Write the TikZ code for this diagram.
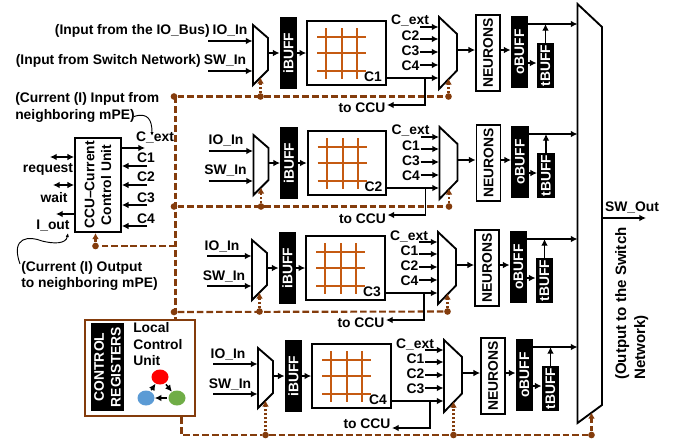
\documentclass[tikz,border=0pt]{standalone}
\usepackage{fontspec}
\setmainfont{Liberation Sans}
\usetikzlibrary{arrows.meta,shapes.geometric}
\definecolor{busbrown}{RGB}{132,60,12}
\definecolor{gridorange}{RGB}{197,90,17}
\tikzset{
  sig/.style={-{Latex[length=5pt,width=5pt]},line width=1.1pt,black},
  duo/.style={{Latex[length=5pt,width=5pt]}-{Latex[length=5pt,width=5pt]},line width=1.1pt},
  thin wave/.style={-{Latex[length=3pt,width=2.5pt]},line width=0.7pt},
  lab/.style={font=\fontsize{10.4}{12.6}\selectfont\bfseries,inner sep=0pt},
  muxline/.style={line width=1.4pt,fill=white},
  blackbuf/.style={lab,fill=black,text=white,rotate=90,minimum height=13pt},
  plainbox/.style={lab,draw,line width=1.3pt,rotate=90,fill=white},
  bus/.style={busbrown,line width=1.6pt,dash pattern=on 5pt off 2.2pt},
  sel/.style={-{Latex[length=4.5pt,width=5pt]},busbrown,line width=1.6pt,dash pattern=on 1.5pt off 1.5pt},
  busdot/.style={circle,fill=busbrown,inner sep=0pt,minimum size=5pt},
}
% name, shift, x of IO_In, y of to CCU, Cn, other inputs, y of bus
\newcommand{\pecol}[7]{%
  \begin{scope}[shift={(#2)}]
    \node[lab] (#1io) at (#3,31) {IO\_In};
    \node[lab] (#1sw) at (225,61) {SW\_In};
    \coordinate (#1ia) at (208,41);
    \coordinate (#1ib) at (208,71);
    \coordinate (#1ma) at (252.5,41);
    \coordinate (#1mb) at (252.5,71);
    \coordinate (#1mo) at (268,53);
    \draw[sig] (#1ia) -- (#1ma);
    \draw[sig] (#1ib) -- (#1mb);
    \draw[muxline] (253,25) -- (268,38) -- (268,70) -- (253,85) -- cycle;
    \node[blackbuf,minimum width=53.5pt] (#1ibuf) at (288.5,53) {iBUFF};
    \node[draw,line width=1.4pt,minimum width=59pt,minimum height=48pt,inner sep=0pt] (#1grid) at (346.5,53) {};
    \draw[sig] (#1mo) -- (#1ibuf.north);
    \draw[sig] (#1ibuf.south) -- (#1grid.west);
    \foreach \g in {37,53,71} {\draw[gridorange,line width=1.5pt] (317,\g) -- (366,\g);}
    \foreach \g in {326,342,357} {\draw[gridorange,line width=1.5pt] (\g,28) -- (\g,79);}
    \node[lab] (#1cn) at (373,77) {#5};
    % current mux
    \coordinate (#1ce) at (420,27);
    \coordinate (#1cme) at (438.5,27);
    \coordinate (#1cg) at (386,78);
    \coordinate (#1cmg) at (438.5,78);
    \coordinate (#1cb) at (425,78);
    \coordinate (#1cc) at (425,105);
    \coordinate (#1ct) at (387,105);
    \coordinate (#1co) at (457,50);
    \node[lab] (#1cel) at (410,21) {C\_ext};
    \draw[sig] (#1ce) -- (#1cme);
    \foreach \lab [count=\n from 0] in {#6} {
      \node[lab] (#1cl\n) at (410.5,{36+15*\n}) {\lab};
      \draw[sig] (420,{39+13*\n}) -- (438.5,{39+13*\n});
    }
    \draw[sig] (#1cg) -- (#1cmg);
    \draw[sig] (#1cb) -- (#1cc) -- (#1ct);
    \node[lab] (#1toccu) at (362,#4) {to CCU};
    \draw[muxline] (439,17) -- (457,34) -- (457,70.5) -- (439,89) -- cycle;
    % neurons and output buffers
    \node[plainbox,minimum width=57pt,minimum height=18pt] (#1nr) at (488,53) {NEURONS};
    \node[blackbuf,minimum width=54pt] (#1ob) at (519.5,52) {oBUFF};
    \node[blackbuf,minimum width=34pt] (#1tb) at (545.5,65.5) {tBUFF};
    \draw[sig] (#1co) -- (#1co -| #1nr.north);
    \draw[sig] (#1co -| #1nr.south) -- (#1co -| #1ob.north);
    \coordinate (#1oa) at (528,24);
    \coordinate (#1ot) at (528,63);
    \draw[sig] (#1oa) -- (#1oa -| swa);
    \draw[sig] (#1ot) -- (#1ot -| #1tb.north);
    \draw[sig] (#1tb.east) -- (#1tb.east |- #1oa);
    % select lines
    \node[busdot] (#1sa) at (260.5,#7) {};
    \node[busdot] (#1sb) at (448.5,#7) {};
    \coordinate (#1ta) at (260.5,77.5);
    \coordinate (#1tc) at (448.5,78.5);
    \draw[sel] (#1sa) -- (#1ta);
    \draw[sel] (#1sb) -- (#1tc);
  \end{scope}}

\begin{document}
\begin{tikzpicture}[x=0.75pt,y=-0.75pt]
  \useasboundingbox (0,0) rectangle (681,443);
  % switch mux
  \coordinate (swa) at (577.5,4);
  \coordinate (swb) at (602,27);
  \coordinate (swc) at (602,405);
  \coordinate (swd) at (577.5,423);
  \draw[muxline] (swa) -- (swb) -- (swc) -- (swd) -- cycle;
  % current bus, below the columns
  \node[busdot] (ja) at (174,96.5) {};
  \node[busdot] (jb) at (174,206.5) {};
  \node[busdot] (jc) at (174,312) {};
  \node[busdot] (jd) at (95.5,246) {};
  \coordinate (ju) at (175.5,96.5);
  \coordinate (jl) at (175.5,246);
  \coordinate (jt) at (95.5,233);
  \coordinate (asb) at (448.5,96.5);
  \coordinate (bsb) at (449,206.5);
  \coordinate (csb) at (447.5,311.5);
  \draw[bus] (ja) -- (asb);
  \draw[bus] (jb) -- (bsb);
  \draw[bus] (jc) -- (csb);
  \draw[bus] (jl) -- (jd);
  \draw[sel,solid] (jd) -- (jt);
  \pecol{a}{0,0}{230}{108}{C1}{C2,C3,C4}{96.5}
  \pecol{b}{0.5,110}{225.5}{109}{C2}{C1,C3,C4}{96.5}
  \pecol{c}{-1,215}{223}{108}{C3}{C1,C2,C4}{96.5}
  \pecol{d}{5,323}{223}{101}{C4}{C1,C2,C3}{112}
  \node[lab,anchor=east] (ioin) at (210,31) {(Input from the IO\_Bus)};
  \node[lab,anchor=east] (swin) at (201,61) {(Input from Switch Network)};
  \coordinate (swo) at (602,218);
  \coordinate (swp) at (646,218);
  \draw[sig] (swo) -- (swp);
  \node[lab] (swout) at (632,208) {SW\_Out};
  \node[lab,font=\fontsize{11.3}{14.2}\selectfont\bfseries,rotate=90,align=left,anchor=north west] (swtxt) at (615,380) {(Output to the Switch\\Network)};
  % current control unit
  \node[plainbox,align=center,minimum width=70pt,minimum height=34.5pt] (ccu) at (98,185) {CCU--Current\\Control Unit};
  \coordinate (cex) at (145,148);
  \draw[sig] (cex -| ccu.south) -- (cex);
  \node[lab] (cexl) at (155,138) {C\_ext};
  \foreach \lab/\ly/\ty in {C1/166/158,C2/185/177,C3/205/198,C4/226/219} {
    \coordinate (cc\lab) at (147,\ly);
    \draw[sig] (cc\lab) -- (cc\lab -| ccu.south);
    \node[lab] (cl\lab) at (146,\ty) {\lab};
  }
  \coordinate (req) at (50,157);
  \coordinate (wai) at (53,185);
  \coordinate (iou) at (56,214);
  \draw[duo] (req) -- (req -| ccu.north);
  \draw[duo] (wai) -- (wai -| ccu.north);
  \draw[sig] (iou -| ccu.north) -- (iou);
  \node[lab] (reql) at (48,169) {request};
  \node[lab] (wail) at (54,198) {wait};
  \node[lab] (ioul) at (53,226) {I\_out};
  % the two notes
  \node[lab,align=left,anchor=west] (inote) at (15,107.5) {(Current (I) Input from\\neighboring mPE)};
  \node[lab,align=left,anchor=west] (onote) at (21,276) {(Current (I) Output\\to neighboring mPE)};
  \coordinate (ina) at (134,116.5);
  \coordinate (inb) at (152,136);
  \draw[thin wave] (ina) .. controls (148,112) and (152,120) .. (inb);
  \coordinate (oua) at (20,264);
  \coordinate (oub) at (68,233);
  \draw[thin wave] (oua) .. controls (10,236) and (30,236) .. (42,241) .. controls (54,244) and (66,244) .. (oub);
  % local control unit
  \node[draw=busbrown,fill=white,line width=1.7pt,minimum width=83pt,minimum height=72.5pt,inner sep=0pt] (lcu) at (140,368) {};
  \node[blackbuf,align=center,minimum width=66pt,minimum height=24.5pt] (creg) at (107.5,367) {CONTROL\\REGISTERS};
  \node[lab,align=left,anchor=north west] (lcut) at (133,322) {Local\\Control\\Unit};
  \node[ellipse,fill=red,minimum width=12.75pt,minimum height=11.25pt,inner sep=0pt] (nred) at (160,377) {};
  \node[ellipse,fill={rgb,255:red,91;green,155;blue,213},minimum width=12.75pt,minimum height=11.25pt,inner sep=0pt] (nblue) at (146,398) {};
  \node[ellipse,fill={rgb,255:red,112;green,173;blue,71},minimum width=12.75pt,minimum height=11.25pt,inner sep=0pt] (ngreen) at (177,398) {};
  \draw[sig,shorten <=1pt] (nred) -- (ngreen);
  \draw[sig,shorten <=1pt] (ngreen) -- (nblue);
  \draw[sig,shorten <=1pt] (nblue) -- (nred);
  % rest of the bus
  \draw[bus] (ju) -- (ju |- lcu.north);
  \coordinate (lb) at (181.5,435);
  \node[busdot] (je) at (591.5,435) {};
  \coordinate (jf) at (591.5,412.5);
  \draw[bus] (lb |- lcu.south) -- (lb) -- (dsa) -- (dsb) -- (je);
  \draw[sel,dash pattern=on 4.2pt off 2.2pt] (je) -- (jf);
\end{tikzpicture}
\end{document}
